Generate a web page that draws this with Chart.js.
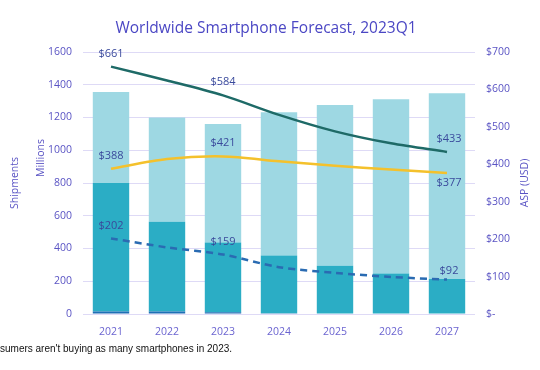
<!DOCTYPE html>
<html>
<head>
<meta charset="utf-8">
<script src="https://cdn.jsdelivr.net/npm/chart.js@4.4.0/dist/chart.umd.min.js"></script>
<style>
  html, body { margin: 0; padding: 0; background: #fff; }
  #wrap { position: relative; width: 540px; height: 370px; }
  #caption {
    position: absolute; left: 0; top: 343px;
    font: 10px "Liberation Sans", Arial, sans-serif; color: #111; white-space: nowrap;
  }
</style>
</head>
<body>
<div id="wrap">
  <canvas id="chart" width="540" height="370"></canvas>
  <div id="caption">sumers aren't buying as many smartphones in 2023.</div>
</div>
<script>
// --- DATA ---
const years = ['2021', '2022', '2023', '2024', '2025', '2026', '2027'];
// shipments in millions, split in three stacked parts
const shipBase = [16, 15, 10, 5, 3, 3, 3];
const shipMid = [784, 549, 426, 353, 292, 245, 211];
const shipTop = [555, 636, 724, 874, 981, 1063, 1134];
// ASP lines (USD)
const aspHigh = [661, 624, 584, 532, 488, 456, 433];
const aspAll = [388, 414, 421, 408, 396, 386, 377];
const aspLow = [202, 178, 159, 125, 110, 99, 92];
const labelIdx = [0, 2, 6];

const shipTicks = [0, 200, 400, 600, 800, 1000, 1200, 1400, 1600];
const aspTicks = [0, 100, 200, 300, 400, 500, 600, 700];

const tickColor = '#5a54c4';
const gridColor = '#dedaf6';
const labelColor = '#3a4a9c';
const tickFont = { family: 'Open Sans', size: 10.5 };

// draws title, axis titles and point labels
const decorPlugin = {
  id: 'decor',
  afterDraw(chart) {
    const ctx = chart.ctx;
    ctx.save();
    ctx.fillStyle = '#4b47c4';
    ctx.font = '15.5px "Open Sans"';
    ctx.textAlign = 'center';
    ctx.textBaseline = 'middle';
    ctx.fillText('Worldwide Smartphone Forecast, 2023Q1', 266, 29);

    ctx.font = '10.5px "Open Sans"';
    ctx.fillStyle = '#5a54c4';
    const vert = (txt, x, y) => {
      ctx.save();
      ctx.translate(x, y);
      ctx.rotate(-Math.PI / 2);
      ctx.fillText(txt, 0, 0);
      ctx.restore();
    };
    vert('Shipments', 15, 183);
    vert('Millions', 41, 158);
    vert('ASP (USD)', 525, 183);

    // point labels
    ctx.fillStyle = labelColor;
    ctx.font = '11px "Open Sans"';
    const offsets = { 3: [-13, -14, -13], 4: [-13, -14, 10], 5: [-13, -13, -9] };
    [3, 4, 5].forEach(di => {
      const meta = chart.getDatasetMeta(di);
      const data = chart.data.datasets[di].data;
      labelIdx.forEach((i, k) => {
        const pt = meta.data[i];
        ctx.fillText('$' + data[i], pt.x + (k === 2 ? 2 : 0), pt.y + offsets[di][k]);
      });
    });
    ctx.restore();
  }
};

new Chart(document.getElementById('chart'), {
  type: 'bar',
  data: {
    labels: years,
    datasets: [
      { label: 'base', data: shipBase, backgroundColor: '#1f6fb6', yAxisID: 'y', stack: 's', order: 2 },
      { label: 'mid', data: shipMid, backgroundColor: '#2badc5', yAxisID: 'y', stack: 's', order: 2 },
      { label: 'top', data: shipTop, backgroundColor: '#9ed8e3', yAxisID: 'y', stack: 's', order: 2 },
      { type: 'line', label: 'ASP high', data: aspHigh, borderColor: '#1e6a67', borderWidth: 2.5, pointRadius: 0, tension: 0.3, yAxisID: 'y1', order: 1 },
      { type: 'line', label: 'ASP', data: aspAll, borderColor: '#f4c12c', borderWidth: 2.5, pointRadius: 0, tension: 0.3, yAxisID: 'y1', order: 1 },
      { type: 'line', label: 'ASP low', data: aspLow, borderColor: '#2a6bb2', borderWidth: 2.5, borderDash: [7, 5], pointRadius: 0, tension: 0.3, yAxisID: 'y1', order: 1 }
    ]
  },
  options: {
    responsive: false,
    animation: false,
    layout: { padding: { top: 52, left: 0, right: 0, bottom: 0 } },
    datasets: { bar: { barPercentage: 0.65, categoryPercentage: 1.0 } },
    plugins: { legend: { display: false }, tooltip: { enabled: false }, title: { display: false } },
    scales: {
      x: {
        stacked: true,
        grid: { display: false },
        border: { display: false },
        ticks: { color: '#6b64d0', font: tickFont, padding: 4, maxRotation: 0 },
        afterFit: s => { s.height = 56; }
      },
      y: {
        stacked: true,
        position: 'left',
        min: shipTicks[0], max: shipTicks[shipTicks.length - 1],
        afterBuildTicks: s => { s.ticks = shipTicks.map(v => ({ value: v })); },
        grid: { color: gridColor, drawTicks: false, lineWidth: 1 },
        border: { display: false },
        ticks: { color: tickColor, font: tickFont, padding: 11, callback: v => String(v) },
        afterFit: s => { s.width = 83; }
      },
      y1: {
        position: 'right',
        min: aspTicks[0], max: aspTicks[aspTicks.length - 1],
        afterBuildTicks: s => { s.ticks = aspTicks.map(v => ({ value: v })); },
        grid: { display: false, drawTicks: false },
        border: { display: false },
        ticks: { color: tickColor, font: tickFont, padding: 11, callback: v => v === 0 ? '$-' : '$' + v },
        afterFit: s => { s.width = 65; }
      }
    }
  },
  plugins: [decorPlugin]
});
</script>
</body>
</html>
